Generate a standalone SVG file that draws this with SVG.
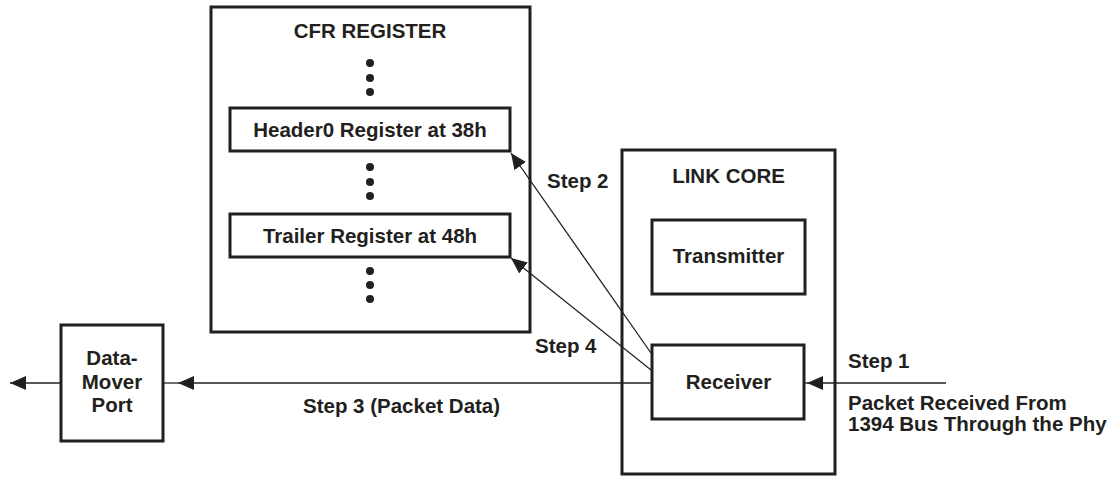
<svg xmlns="http://www.w3.org/2000/svg" width="1119" height="477" viewBox="0 0 1119 477">
<defs>
<style>
.box{fill:#fff;stroke:#231f20;stroke-width:3}
.t{font-family:"Liberation Sans",Arial,sans-serif;font-weight:bold;font-size:20.5px;fill:#231f20}
.c{text-anchor:middle}
.ln{stroke:#231f20;stroke-width:1.3;fill:none}
.dot{fill:#231f20}
</style>
<marker id="ah" markerWidth="18" markerHeight="14" refX="16" refY="7" orient="auto" markerUnits="userSpaceOnUse">
<path d="M0,0 L16,7 L0,14 Z" fill="#231f20"/>
</marker>
</defs>
<rect width="1119" height="477" fill="#fff"/>
<g id="cfr">
<rect class="box" x="211" y="7" width="319" height="325"/>
<text class="t c" x="370" y="38">CFR REGISTER</text>
<circle class="dot" cx="370" cy="63" r="4"/>
<circle class="dot" cx="370" cy="78" r="4"/>
<circle class="dot" cx="370" cy="92" r="4"/>
<circle class="dot" cx="370" cy="167" r="4"/>
<circle class="dot" cx="370" cy="182" r="4"/>
<circle class="dot" cx="370" cy="196" r="4"/>
<circle class="dot" cx="370" cy="271" r="4"/>
<circle class="dot" cx="370" cy="285" r="4"/>
<circle class="dot" cx="370" cy="299" r="4"/>
</g>
<g id="header0">
<rect class="box" x="230" y="108" width="280" height="43"/>
<text class="t c" x="370" y="137">Header0 Register at 38h</text>
</g>
<g id="trailer">
<rect class="box" x="230" y="214" width="280" height="43"/>
<text class="t c" x="370" y="243">Trailer Register at 48h</text>
</g>
<g id="linkcore">
<rect class="box" x="622" y="150" width="213" height="324"/>
<text class="t c" x="728.5" y="183">LINK CORE</text>
</g>
<g id="transmitter">
<rect class="box" x="652" y="220" width="153" height="74"/>
<text class="t c" x="728.5" y="263">Transmitter</text>
</g>
<g id="receiver">
<rect class="box" x="652" y="345" width="152" height="74"/>
<text class="t c" x="728.5" y="389">Receiver</text>
</g>
<g id="datamover">
<rect class="box" x="61" y="325" width="102" height="116"/>
<text class="t c" x="112" y="365">Data-</text>
<text class="t c" x="112" y="389">Mover</text>
<text class="t c" x="112" y="412">Port</text>
</g>
<g id="connectors">
<line class="ln" x1="946" y1="383" x2="807" y2="383" marker-end="url(#ah)"/>
<line class="ln" x1="807" y1="383" x2="804" y2="383"/>
<line class="ln" x1="652" y1="383" x2="178" y2="383" marker-end="url(#ah)"/>
<line class="ln" x1="178" y1="383" x2="163" y2="383"/>
<line class="ln" x1="61" y1="383" x2="10" y2="383" marker-end="url(#ah)"/>
<line class="ln" x1="651" y1="353" x2="511" y2="153" marker-end="url(#ah)"/>
<line class="ln" x1="651" y1="370" x2="511" y2="258" marker-end="url(#ah)"/>
</g>
<g id="labels">
<text class="t" x="547" y="188">Step 2</text>
<text class="t" x="535" y="353">Step 4</text>
<text class="t" x="303" y="413">Step 3 (Packet Data)</text>
<text class="t" x="848" y="368">Step 1</text>
<text class="t" x="848" y="410">Packet Received From</text>
<text class="t" x="848" y="431">1394 Bus Through the Phy</text>
</g>
</svg>
